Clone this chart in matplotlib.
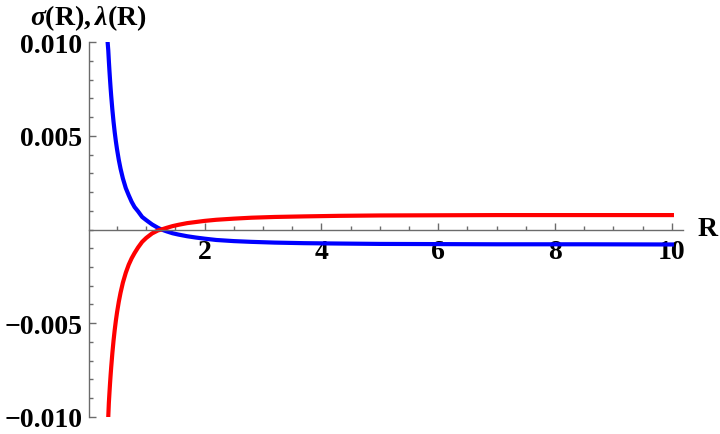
import matplotlib
matplotlib.use("Agg")
import matplotlib.pyplot as plt
from matplotlib.ticker import MultipleLocator

# values
r_sigma = [0.339, 0.35, 0.36, 0.37, 0.38, 0.39, 0.40, 0.42, 0.44, 0.46, 0.48, 0.50,
           0.53, 0.56, 0.60, 0.65, 0.70, 0.75, 0.80, 0.86, 0.93, 1.0, 1.1, 1.2, 1.26,
           1.35, 1.45, 1.55, 1.7, 1.85, 2.0, 2.2, 2.5, 2.8, 3.2, 3.7, 4.3, 5.0, 6.0,
           7.0, 8.5, 10.0]
sigma = [0.0100, 0.00957, 0.0090, 0.00848, 0.0080, 0.00755, 0.00714, 0.0064,
         0.00576, 0.0052, 0.00471, 0.00428, 0.00372, 0.00325, 0.00273, 0.00221,
         0.00183, 0.00148, 0.00120, 0.00097, 0.00067, 0.00050, 0.00027, 0.00009,
         0.0, -0.0001, -0.0002, -0.00027, -0.00036, -0.00043, -0.00049, -0.00056,
         -0.00062, -0.00066, -0.0007, -0.00073, -0.00075, -0.00077, -0.00078,
         -0.00079, -0.00079, -0.0008]

r_lambda = [0.35, 0.36, 0.37, 0.38, 0.39, 0.40, 0.42, 0.44, 0.46, 0.48, 0.50, 0.53,
            0.56, 0.60, 0.65, 0.70, 0.75, 0.80, 0.86, 0.93, 1.0, 1.1, 1.2, 1.26, 1.35,
            1.45, 1.55, 1.7, 1.85, 2.0, 2.2, 2.5, 2.8, 3.2, 3.7, 4.3, 5.0, 6.0, 7.0,
            8.5, 10.0]
lam = [-0.0100, -0.00926, -0.00873, -0.00823, -0.00778, -0.00736, -0.0066,
       -0.00594, -0.00537, -0.00487, -0.00443, -0.00386, -0.00338, -0.00284,
       -0.00231, -0.00188, -0.00154, -0.00126, -0.00096, -0.00066, -0.00045,
       -0.00021, -0.00005, 0.0, 0.00009, 0.00018, 0.00025, 0.00034, 0.0004,
       0.00046, 0.00052, 0.00058, 0.00063, 0.00067, 0.0007, 0.00073, 0.00075,
       0.00076, 0.00077, 0.00077, 0.00077]

x_ticks = [2, 4, 6, 8, 10]
y_ticks = [-0.010, -0.005, 0.005, 0.010]
y_labels = ["\u22120.010", "\u22120.005", "0.005", "0.010"]

plt.rcParams['font.family'] = ['Liberation Serif', 'DejaVu Serif']
plt.rcParams['font.weight'] = 'bold'
plt.rcParams['mathtext.fontset'] = 'custom'
plt.rcParams['mathtext.rm'] = 'Liberation Serif:bold'
plt.rcParams['mathtext.it'] = 'Liberation Serif:italic'

fig = plt.figure(figsize=(7.2, 4.35), dpi=100)
ax = fig.add_axes([89 / 720, 1 - 417.7 / 435, (683 - 89) / 720, (417.7 - 43.3) / 435])

ax.plot(r_sigma, sigma, color=(0, 0, 1), lw=3)
ax.plot(r_lambda, lam, color=(1, 0, 0), lw=3)

ax.set_xlim(0.02, 10.19)
ax.set_ylim(-0.010, 0.010)

axis_gray = '#6b6b6b'
ax.spines['top'].set_visible(False)
ax.spines['right'].set_visible(False)
ax.spines['bottom'].set_position(('data', 0))
for s in ('left', 'bottom'):
    ax.spines[s].set_color(axis_gray)
    ax.spines[s].set_linewidth(1.0)

ax.set_xticks(x_ticks)
ax.set_xticklabels([str(t) for t in x_ticks])
ax.xaxis.set_minor_locator(MultipleLocator(0.5))
ax.set_yticks(y_ticks)
ax.set_yticklabels(y_labels)
ax.yaxis.set_minor_locator(MultipleLocator(0.001))

ax.tick_params(axis='both', which='both', direction='in', color=axis_gray,
               labelsize=20, width=1.0)
ax.tick_params(axis='both', which='major', length=5)
ax.tick_params(axis='both', which='minor', length=3)
ax.tick_params(axis='x', which='major', pad=7)
ax.tick_params(axis='y', which='major', pad=5)

fig.text(88 / 720, 1 - 18 / 435, r'$\sigma\mathrm{(R),}\lambda\mathrm{(R)}$',
         fontsize=20, ha='center', va='center')
fig.text(708 / 720, 1 - 230 / 435, 'R', fontsize=20, fontweight='bold',
         ha='center', va='center')

fig.savefig('out.png', dpi=100)
